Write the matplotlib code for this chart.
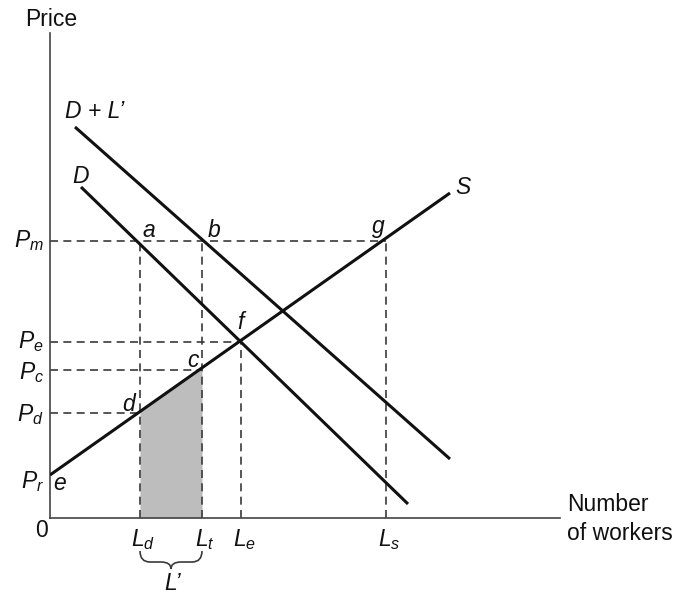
import numpy as np
import matplotlib.pyplot as plt
from matplotlib.path import Path
from matplotlib.patches import PathPatch

plt.rcParams['font.family'] = ['Liberation Sans', 'DejaVu Sans']
plt.rcParams['mathtext.fontset'] = 'custom'
plt.rcParams['mathtext.rm'] = 'Liberation Sans'
plt.rcParams['mathtext.it'] = 'Liberation Sans:italic'

# curve end points
supply_x = [0.0, 40.0]
supply_y = [4.3, 32.5]
demand_x = [3.1, 35.8]
demand_y = [33.1, 1.4]
demand_plus_x = [2.5, 40.0]
demand_plus_y = [39.1, 5.9]

# quantities along the worker axis
quantity_labels = [r'$L_d$', r'$L_t$', r'$L_e$', r'$L_s$']
quantities = [9.0, 15.2, 19.1, 33.6]

# price levels
price_labels = [r'$P_m$', r'$P_e$', r'$P_c$', r'$P_d$', r'$P_r$']
prices = [27.7, 17.6, 14.8, 10.5, 4.3]

L_d, L_t, L_e, L_s = quantities
P_m, P_e, P_c, P_d, P_r = prices

# named points on the curves
point_labels = ['a', 'b', 'g', 'f', 'c', 'd', 'e']
point_x = [L_d, L_t, L_s, L_e, L_t, L_d, 0.0]
point_y = [P_m, P_m, P_m, P_e, P_c, P_d, P_r]

INK = '#111111'
GUIDE = '#3a3a3a'
FS = 16.5

fig = plt.figure(figsize=(6.78, 5.94), dpi=100)
ax = fig.add_axes([50 / 678, 76 / 594, 510 / 678, 485 / 594])
ax.set_xlim(0, 51)
ax.set_ylim(0, 48.5)
for side in ['top', 'right']:
    ax.spines[side].set_visible(False)
for side in ['left', 'bottom']:
    ax.spines[side].set_color('#444444')
    ax.spines[side].set_linewidth(1.2)
ax.set_xticks([])
ax.set_yticks([])

# shaded area under supply between L_d and L_t
shade_x = np.array([L_d, L_t])
ax.fill_between(shade_x, 0, np.interp(shade_x, supply_x, supply_y),
                color='#bdbdbd', lw=0, zorder=1)

# dashed guide lines
dash = dict(color=GUIDE, lw=1.2, linestyle=(0, (4.8, 3.2)), zorder=2)
price_ends = [L_s, L_e, L_t, L_d]
for p, xe in zip(prices[:4], price_ends):
    ax.plot([0, xe], [p, p], **dash)
quantity_tops = [P_m, P_m, P_e, P_m]
for q, yt in zip(quantities, quantity_tops):
    ax.plot([q, q], [0, yt], **dash)

# curves
curve = dict(color=INK, lw=2.2, solid_capstyle='butt', zorder=3)
ax.plot(supply_x, supply_y, **curve)
ax.plot(demand_x, demand_y, **curve)
ax.plot(demand_plus_x, demand_plus_y, **curve)

# curve names
ax.text(demand_plus_x[0] - 1.0, demand_plus_y[0] + 0.9, 'D + L\u2019',
        fontsize=FS, style='italic', color=INK, ha='left', va='baseline')
ax.text(demand_x[0] - 0.9, demand_y[0] + 0.4, 'D',
        fontsize=FS, style='italic', color=INK, ha='left', va='baseline')
ax.text(supply_x[1] + 0.5, supply_y[1] - 0.1, 'S',
        fontsize=FS, style='italic', color=INK, ha='left', va='baseline')

# point letters (offsets in points)
point_offsets = {
    'a': (1.6, 3.2, 'left'),
    'b': (3.4, 3.0, 'left'),
    'g': (-0.5, 5.6, 'right'),
    'f': (1.0, 9.6, 'center'),
    'c': (-1.5, 2.4, 'right'),
    'd': (-2.2, 1.6, 'right'),
    'e': (2.2, -11.0, 'left'),
}
for lab, x, y in zip(point_labels, point_x, point_y):
    dx, dy, ha = point_offsets[lab]
    ax.annotate('$' + lab + '$', (x, y), xytext=(dx, dy),
                textcoords='offset points', fontsize=FS, color=INK,
                ha=ha, va='baseline', annotation_clip=False)

# price axis labels
price_dy = [-4.6, -4.2, -6.2, -5.8, -9.2]
for lab, p, dy in zip(price_labels, prices, price_dy):
    ax.annotate(lab, (0, p), xytext=(-4.3, dy), textcoords='offset points',
                fontsize=FS, color=INK, ha='right', va='baseline',
                annotation_clip=False)

# quantity axis labels
for lab, q in zip(quantity_labels, quantities):
    ax.annotate(lab, (q, 0), xytext=(2.2, -20.0), textcoords='offset points',
                fontsize=FS, color=INK, ha='center', va='baseline',
                annotation_clip=False)

ax.annotate('0', (0, 0), xytext=(-1.5, -13.6), textcoords='offset points',
            fontsize=FS, color=INK, ha='right', va='baseline',
            annotation_clip=False)

# brace grouping L_d to L_t
xm = (L_d + L_t) / 2
top, mid, tip = -3.3, -4.4, -5.1
verts = [(L_d, top), (L_d, mid), (L_d + 1.0, mid),
         (xm - 1.0, mid),
         (xm, mid), (xm, tip),
         (xm, mid), (xm + 1.0, mid),
         (L_t - 1.0, mid),
         (L_t, mid), (L_t, top)]
codes = [Path.MOVETO, Path.CURVE3, Path.CURVE3,
         Path.LINETO,
         Path.CURVE3, Path.CURVE3,
         Path.CURVE3, Path.CURVE3,
         Path.LINETO,
         Path.CURVE3, Path.CURVE3]
ax.add_patch(PathPatch(Path(verts, codes), fc='none', ec=GUIDE, lw=1.2,
                       clip_on=False))
ax.annotate('L\u2019', (xm, tip), xytext=(1.5, -15.3), textcoords='offset points',
            fontsize=FS, style='italic', color=INK, ha='center', va='baseline',
            annotation_clip=False)

# axis titles
fig.text(25 / 678, 1 - 26 / 594, 'Price', fontsize=FS, color=INK,
         ha='left', va='baseline')
fig.text(567 / 678, 1 - 511 / 594, 'Number', fontsize=FS, color=INK,
         ha='left', va='baseline')
fig.text(567 / 678, 1 - 540 / 594, 'of workers', fontsize=FS, color=INK,
         ha='left', va='baseline')

fig.savefig('out.png', dpi=100)
